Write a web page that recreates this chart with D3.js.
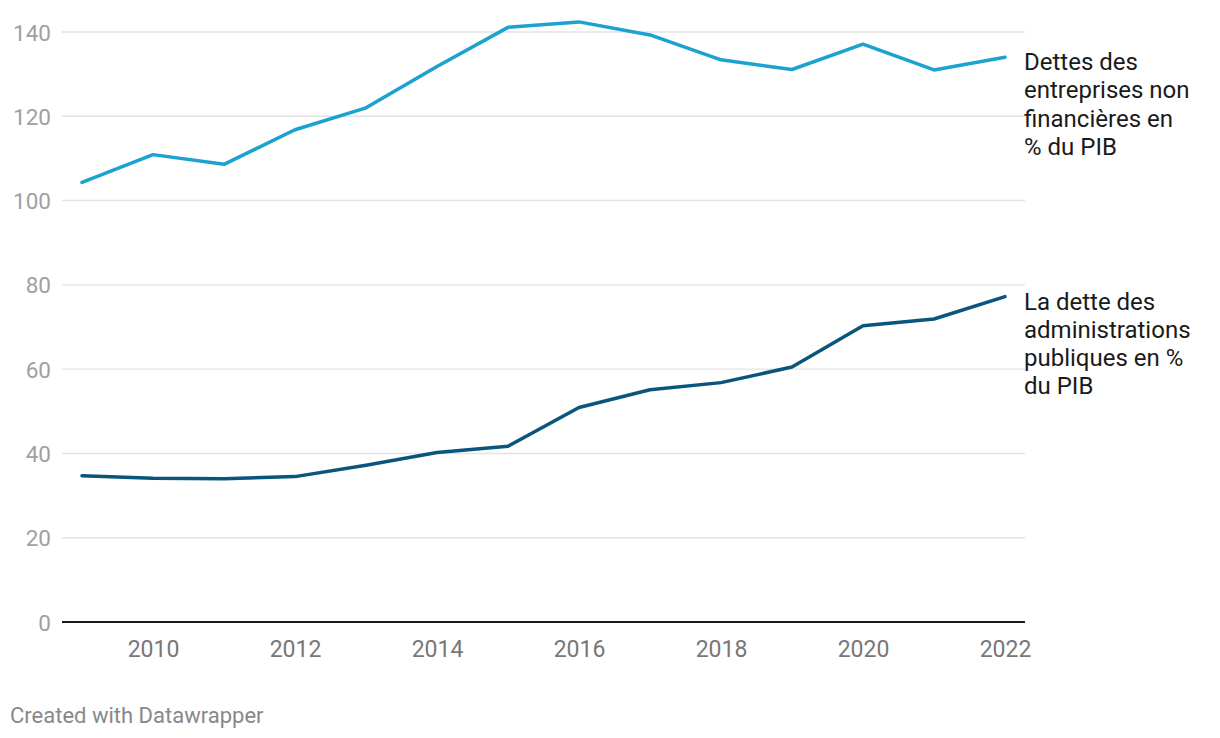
<!DOCTYPE html>
<html>
<head>
<meta charset="utf-8">
<script src="https://cdn.jsdelivr.net/npm/d3@7"></script>
<style>
  html, body { margin: 0; padding: 0; background: #fff; }
  svg { display: block; font-family: Roboto, "Noto Sans", sans-serif; }
</style>
</head>
<body>
<svg id="chart" width="1220" height="738"></svg>
<script>
const years = [2009, 2010, 2011, 2012, 2013, 2014, 2015, 2016, 2017, 2018, 2019, 2020, 2021, 2022];
const entreprises = [104.3, 110.9, 108.6, 116.8, 122.0, 131.8, 141.1, 142.4, 139.3, 133.4, 131.1, 137.1, 131.0, 134.0];
const administrations = [34.7, 34.1, 34.0, 34.5, 37.2, 40.2, 41.7, 50.9, 55.1, 56.8, 60.5, 70.3, 71.9, 77.2];
const yTicks = [0, 20, 40, 60, 80, 100, 120, 140];
const xTicks = [2010, 2012, 2014, 2016, 2018, 2020, 2022];
const seriesNames = [
  ["Dettes des", "entreprises non", "financières en", "% du PIB"],
  ["La dette des", "administrations", "publiques en %", "du PIB"]
];
const seriesColors = ["#1ba2d0", "#09557c"];

const svg = d3.select("#chart");
const x = d3.scaleLinear().domain([2009, 2022]).range([82, 1005]);
const y = d3.scaleLinear().domain([0, 140]).range([622, 32]);
const gridLeft = 62, gridRight = 1025;

// grid lines
svg.append("g").selectAll("line").data(yTicks.filter(d => d !== 0)).join("line")
  .attr("x1", gridLeft).attr("x2", gridRight)
  .attr("y1", d => y(d)).attr("y2", d => y(d))
  .attr("stroke", "#e3e3e3").attr("stroke-width", 1.4);

// y tick labels
const yAxis = d3.axisLeft(y).tickValues(yTicks).tickSize(0).tickPadding(0);
const gy = svg.append("g").attr("transform", `translate(51,0)`).call(yAxis);
gy.select(".domain").remove();
gy.selectAll("text").attr("font-size", 22.5).attr("fill", "#a0a0a0")
  .attr("font-family", "Roboto").attr("dy", "0.36em");

// baseline
svg.append("line").attr("x1", gridLeft).attr("x2", gridRight)
  .attr("y1", y(0)).attr("y2", y(0)).attr("stroke", "#1a1a1a").attr("stroke-width", 2);

// x tick labels
const xAxis = d3.axisBottom(x).tickValues(xTicks).tickFormat(d3.format("d")).tickSize(0).tickPadding(0);
const gx = svg.append("g").attr("transform", `translate(0,${y(0)})`).call(xAxis);
gx.select(".domain").remove();
gx.selectAll("text").attr("font-size", 23).attr("fill", "#777")
  .attr("font-family", "Roboto").attr("dy", "0").attr("y", 34.5);

// lines
const line = d3.line().x((d, i) => x(years[i])).y(d => y(d));
[entreprises, administrations].forEach((vals, k) => {
  svg.append("path").datum(vals).attr("d", line)
    .attr("fill", "none").attr("stroke", seriesColors[k]).attr("stroke-width", 3.5)
    .attr("stroke-linejoin", "round").attr("stroke-linecap", "round");
  const last = vals[vals.length - 1];
  const t = svg.append("text").attr("x", 1024).attr("y", y(last) + 13)
    .attr("font-size", 24).attr("fill", "#1a1a1a").attr("font-family", "Roboto");
  seriesNames[k].forEach((s, j) => {
    t.append("tspan").attr("x", 1024).attr("dy", j === 0 ? 0 : 28.2).text(s);
  });
});

// footer
svg.append("text").attr("x", 10).attr("y", 723).attr("font-size", 22)
  .attr("fill", "#888").attr("font-family", "Roboto").text("Created with Datawrapper");
</script>
</body>
</html>
